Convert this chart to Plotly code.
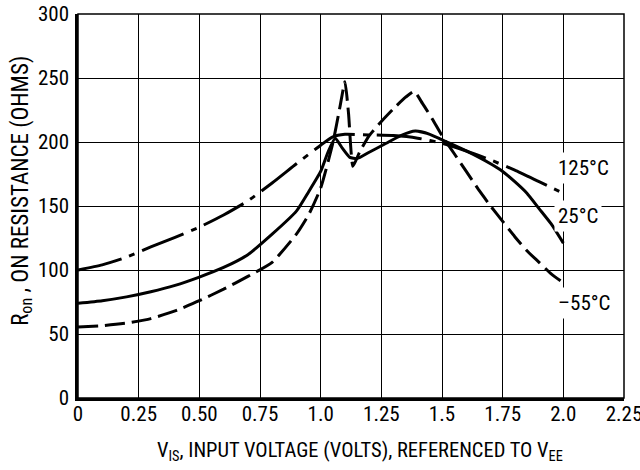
import plotly.graph_objects as go

# ---- data ----
x_tick_vals = [0, 0.25, 0.5, 0.75, 1.0, 1.25, 1.5, 1.75, 2.0, 2.25]
x_tick_text = ["0", "0.25", "0.50", "0.75", "1.0", "1.25", "1.5", "1.75", "2.0", "2.25"]
y_tick_vals = [0, 50, 100, 150, 200, 250, 300]

x_125 = [0, 0.1, 0.2, 0.3, 0.4, 0.5, 0.6, 0.7, 0.8, 0.9, 1.0, 1.05, 1.1, 1.2, 1.3, 1.4,
         1.5, 1.6, 1.7, 1.8, 1.9, 2.0]
y_125 = [100, 104, 110, 118, 125.5, 133.5, 143, 154, 168, 183, 197.5, 204, 206, 205.5, 205, 203,
         199, 193, 186, 178, 169, 160]

x_25 = [0, 0.1, 0.2, 0.3, 0.4, 0.5, 0.6, 0.7, 0.8, 0.9, 0.95, 1.0, 1.03, 1.06, 1.09, 1.12,
        1.15, 1.2, 1.27, 1.33, 1.39, 1.45, 1.52, 1.6, 1.7, 1.75, 1.8, 1.85, 1.9, 1.95, 2.0]
y_25 = [74, 76, 79, 83, 88, 94.5, 102, 112, 128, 146, 161, 177, 192, 203, 195, 188,
        187, 192, 199, 205, 208.5, 206, 200, 193, 183, 177, 169, 160, 148, 136, 121]

x_m55 = [0, 0.1, 0.2, 0.3, 0.4, 0.5, 0.6, 0.7, 0.8, 0.9, 0.95, 1.0, 1.05, 1.08, 1.1, 1.115,
         1.133, 1.16, 1.2, 1.25, 1.3, 1.35, 1.385, 1.42, 1.46, 1.5, 1.55, 1.6, 1.65, 1.7,
         1.75, 1.8, 1.85, 1.9, 1.95, 2.0]
y_m55 = [55.5, 56.5, 58.5, 62, 68, 76, 85, 95, 106, 128, 143, 164, 199, 228, 247, 222,
         181, 192, 205, 216, 226, 235, 239.5, 230, 218, 205, 191, 177, 163, 150,
         138, 126, 115, 106, 97, 90]

series_labels = ["125°C", "25°C", "–55°C"]
label_x = [1.962, 1.962, 1.962]
label_y = [180, 142.5, 74]

FONT = "Liberation Sans Narrow, Arial Narrow, Roboto Condensed, Liberation Sans, Arial, sans-serif"
FS = 21

fig = go.Figure()
curves = [
    (x_125, y_125, "45px,8px,6px,8px"),
    (x_25, y_25, "solid"),
    (x_m55, y_m55, "20px,7px"),
]
for xs, ys, dash in curves:
    fig.add_trace(go.Scatter(
        x=xs, y=ys, mode="lines",
        line=dict(color="black", width=3, dash=dash, shape="spline", smoothing=0.5),
        showlegend=False, hoverinfo="skip"))

for txt, lx, ly in zip(series_labels, label_x, label_y):
    fig.add_annotation(x=lx, y=ly, xref="x", yref="y", text=txt, showarrow=False,
                       xanchor="left", yanchor="middle", bgcolor="white", borderpad=3,
                       font=dict(family=FONT, size=FS, color="black"))

# axis titles
fig.add_annotation(x=0.516, y=-0.14, xref="paper", yref="paper",
                   text="V<sub>IS</sub>, INPUT VOLTAGE (VOLTS), REFERENCED TO V<sub>EE</sub>",
                   showarrow=False, xanchor="center", yanchor="middle",
                   font=dict(family=FONT, size=20.5, color="black"))
fig.add_annotation(x=-0.104, y=0.54, xref="paper", yref="paper",
                   text="R<sub>on</sub> , ON RESISTANCE (OHMS)", textangle=-90,
                   showarrow=False, xanchor="center", yanchor="middle",
                   font=dict(family=FONT, size=23, color="black"))

fig.add_shape(type="rect", xref="paper", yref="paper", x0=0, x1=1, y0=0, y1=1,
              line=dict(color="black", width=1.5), layer="below")

fig.update_xaxes(range=[0, 2.25], tickvals=x_tick_vals, ticktext=x_tick_text,
                 showgrid=True, gridcolor="black", gridwidth=1, zeroline=False,
                 showline=True, linecolor="black", linewidth=2.5, ticks="",
                 ticklabelstandoff=-5, automargin=False, ticklabeloverflow="allow",
                 tickfont=dict(family=FONT, size=FS, color="black"))
fig.update_yaxes(range=[0, 300], tickvals=y_tick_vals,
                 showgrid=True, gridcolor="black", gridwidth=1, zeroline=False,
                 showline=True, linecolor="black", linewidth=2.5, ticks="",
                 ticklabelstandoff=2, automargin=False,
                 tickfont=dict(family=FONT, size=FS, color="black"))

fig.update_layout(width=640, height=470, paper_bgcolor="white", plot_bgcolor="white",
                  margin=dict(l=78, r=16, t=14, b=72), showlegend=False)

fig.write_html("out.html", config={"displayModeBar": False},
               post_script="document.body.style.margin='0';")
